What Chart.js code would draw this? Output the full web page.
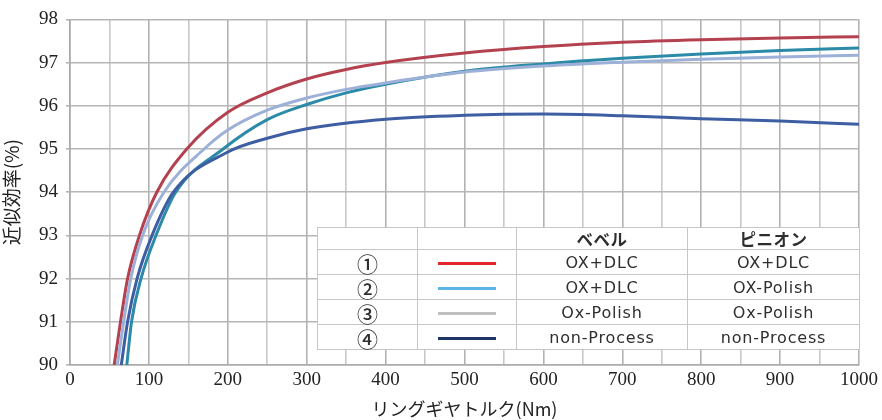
<!DOCTYPE html>
<html><head><meta charset="utf-8">
<script src="https://cdn.jsdelivr.net/npm/chart.js@4/dist/chart.umd.min.js"></script>
<style>
html,body{margin:0;padding:0;background:#fff;}
#wrap{position:relative;width:882px;height:420px;}
#legendTable{position:absolute;left:317px;top:227px;border-collapse:collapse;background:#fff;table-layout:fixed;
  font-family:"DejaVu Sans","Noto Sans",sans-serif;color:#2e2e2e;}
#legendTable td{border:1.5px solid #c6c6c6;text-align:center;padding:2px 0 0 0;height:22px;font-size:16px;letter-spacing:0.8px;line-height:20px;}
#legendTable td.num{font-family:"Noto Sans CJK JP",sans-serif;font-size:21px;letter-spacing:0;font-weight:500;}
#legendTable tr.head td{font-family:"Noto Sans CJK JP",sans-serif;font-weight:bold;font-size:16.5px;height:21px;padding:0;letter-spacing:0.5px;}
.sw{display:inline-block;width:58px;height:3px;vertical-align:middle;}
</style></head>
<body><div id="wrap"><canvas id="c" width="882" height="420"></canvas>
<table id="legendTable"></table></div>
<script>
// ---- data ----
const torqueTicks = [0,100,200,300,400,500,600,700,800,900,1000];
const effTicks = [90,91,92,93,94,95,96,97,98];

const seriesNo = ['①','②','③','④'];
const bevel   = ['OX+DLC','OX+DLC','Ox-Polish','non-Process'];
const pinion  = ['OX+DLC','OX-Polish','Ox-Polish','non-Process'];

const torque1 = [56,64,73,88,110,148,200,250,300,350,400,500,600,700,800,900,1000];
const eff1    = [90,91,92,93,94,95,95.85,96.3,96.62,96.84,97.0,97.22,97.37,97.47,97.53,97.57,97.6];

const torque2 = [72,78,90,109,134,194,250,300,350,400,500,600,700,800,900,1000];
const eff2    = [90,91,92,93,94,95,95.68,96.03,96.3,96.5,96.8,96.97,97.1,97.2,97.28,97.34];

const torque3 = [60,68,77,92,119,170,200,250,300,350,400,500,600,700,800,900,1000];
const eff3    = [90,91,92,93,94,95,95.44,95.9,96.18,96.38,96.53,96.78,96.92,97.01,97.08,97.13,97.17];

const torque4 = [65,73,85,104,131,200,250,300,400,500,600,700,800,900,1000];
const eff4    = [90,91,92,93,94,94.93,95.25,95.47,95.69,95.78,95.81,95.77,95.7,95.65,95.57];

// ---- styling ----
const lineColors   = ['#b4414f','#2b8aa8','#9cb0d8','#3d5ea2'];
const legendColors = ['#e3262b','#5db4e6','#c0c0c0','#1f3566'];

const pts = (xs, ys) => xs.map((x,i)=>({x:x,y:ys[i]}));
const allData = [pts(torque1,eff1), pts(torque2,eff2), pts(torque3,eff3), pts(torque4,eff4)];
const drawOrder = [2,3,1,0];

const datasets = drawOrder.map(i => ({
  label: seriesNo[i],
  data: allData[i],
  borderColor: lineColors[i],
  borderWidth: 3,
  pointRadius: 0,
  fill: false,
  cubicInterpolationMode: 'monotone'
}));

const serif = '"Liberation Serif","DejaVu Serif",serif';
const jp = '"Noto Sans CJK JP",sans-serif';

new Chart(document.getElementById('c'), {
  type: 'line',
  data: { datasets },
  options: {
    responsive: false,
    animation: false,
    layout: { padding: { left: 0, right: 22, top: 16, bottom: 0 } },
    plugins: { legend: { display: false }, tooltip: { enabled: false } },
    scales: {
      x: {
        type: 'linear', min: 0, max: 1000,
        afterFit: s => { s.height = 55; },
        afterBuildTicks: s => {
          const t = [];
          for (let v = 0; v <= 1000; v += 50) t.push({ value: v });
          s.ticks = t;
        },
        ticks: {
          autoSkip: false, maxRotation: 0, padding: 4,
          color: '#222', font: { family: serif, size: 19 },
          callback: v => torqueTicks.includes(v) ? String(v) : ''
        },
        grid: {
          color: c => (c.tick && c.tick.value % 100 === 0) ? '#b2b2b2' : '#c8c8c8',
          lineWidth: 1.6, drawTicks: false
        },
        border: { color: '#aaa', width: 1.6 },
        title: { display: true, text: 'リングギヤトルク(Nm)', color: '#222',
                 font: { family: jp, size: 18 }, padding: { top: 0, bottom: 0 } }
      },
      y: {
        min: 90, max: 98,
        afterFit: s => { s.width = 70; },
        afterBuildTicks: s => { s.ticks = effTicks.map(v => ({ value: v })); },
        ticks: { color: '#222', font: { family: serif, size: 19 }, padding: 8 },
        grid: { color: '#b6b6b6', lineWidth: 1.6, drawTicks: true, tickLength: 4 },
        border: { color: '#aaa', width: 1.6 },
        title: { display: true, text: '近似効率(%)', color: '#222',
                 font: { family: jp, size: 19 }, padding: { top: 0, bottom: 0 } }
      }
    }
  }
});

// ---- legend table built from the arrays ----
const tbl = document.getElementById('legendTable');
const widths = [99, 98, 170, 171];
let html = '<tr class="head">' + ['', '', 'ベベル', 'ピニオン'].map((t,i)=>`<td style="width:${widths[i]}px">${t}</td>`).join('') + '</tr>';
for (let i = 0; i < 4; i++) {
  html += `<tr><td class="num">${seriesNo[i]}</td><td><span class="sw" style="background:${legendColors[i]}"></span></td><td>${bevel[i]}</td><td>${pinion[i]}</td></tr>`;
}
tbl.innerHTML = html;
</script></body></html>
